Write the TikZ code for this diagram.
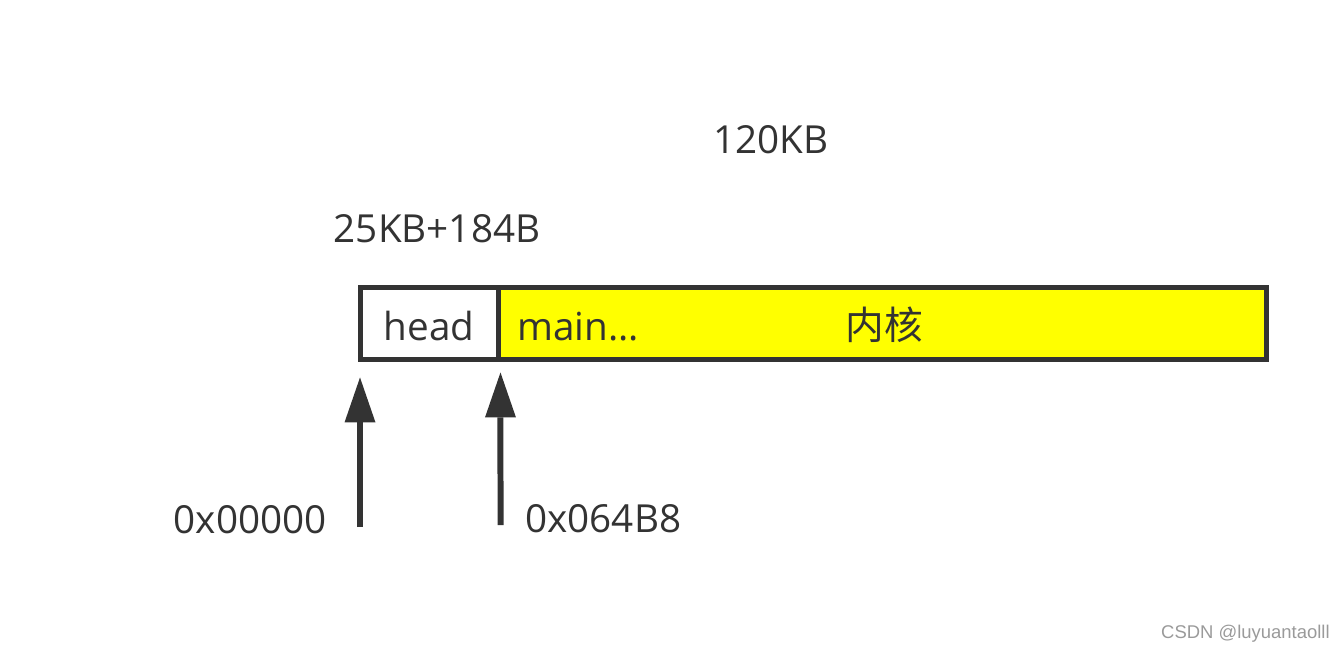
\documentclass[tikz,border=0pt]{standalone}
\usepackage{fontspec}
\setmainfont{Open Sans}
\newfontfamily\cjk{Noto Sans CJK SC}
\newfontfamily\wmfont{Liberation Sans}
\usetikzlibrary{
  arrows.meta,  % Triangle 箭头
  positioning   % 节点相对定位
}
\definecolor{darkline}{HTML}{333333}
\definecolor{kernelyellow}{HTML}{FFFF00}
\definecolor{wmgray}{HTML}{9A9A9A}

\begin{document}
\begin{tikzpicture}[x=0.02cm, y=-0.02cm,
  membox/.style={draw=darkline, line width=0.1cm, minimum height=1.45cm,
    inner sep=0pt, outer sep=0pt},
  memtext/.style={text=darkline, font=\fontsize{22}{26}\selectfont,
    inner sep=0pt, anchor=base},
  addrarrow/.style={draw=darkline, line width=0.12cm,
    -{Triangle[length=0.9cm, width=0.62cm, line width=0pt]}}]
  % 画布范围
  \useasboundingbox (0,0) rectangle (1344,651);

  % 内存块：head 与内核
  \node[membox, fill=white, minimum width=2.78cm, anchor=north west] (head) at (360,287.5) {};
  \node[membox, fill=kernelyellow, minimum width=15.36cm, right=0pt of head] (kernel) {};
  \node[memtext] (headlbl) at (429,341) {head};
  \node[memtext, anchor=base west] (mainlbl) at (517,341) {main...};
  \node[memtext] (kernlbl) at (884,340) {\cjk 内核};

  % 大小标注
  \node[memtext] (total) at (771,154) {120KB};
  \node[memtext] (headsize) at (437,243) {25KB+184B};

  % 地址箭头
  \coordinate (tail1) at (360,527);
  \coordinate (tail2) at (500.5,525);
  \draw[addrarrow] (tail1) -- ([yshift=-0.35cm]head.south west);
  \draw[addrarrow] (tail2) -- ([xshift=0.03cm, yshift=-0.25cm]head.south east);

  % 地址标注
  \node[memtext, anchor=base east] (addr0) at (327,533) {0x00000};
  \node[memtext, anchor=base west] (addr1) at (525,532) {0x064B8};

  % 水印
  \node[text=wmgray, font=\wmfont\fontsize{10.5}{12}\selectfont, inner sep=0pt,
    anchor=base east] (mark) at (1330,638) {CSDN @luyuantaolll};
\end{tikzpicture}
\end{document}
